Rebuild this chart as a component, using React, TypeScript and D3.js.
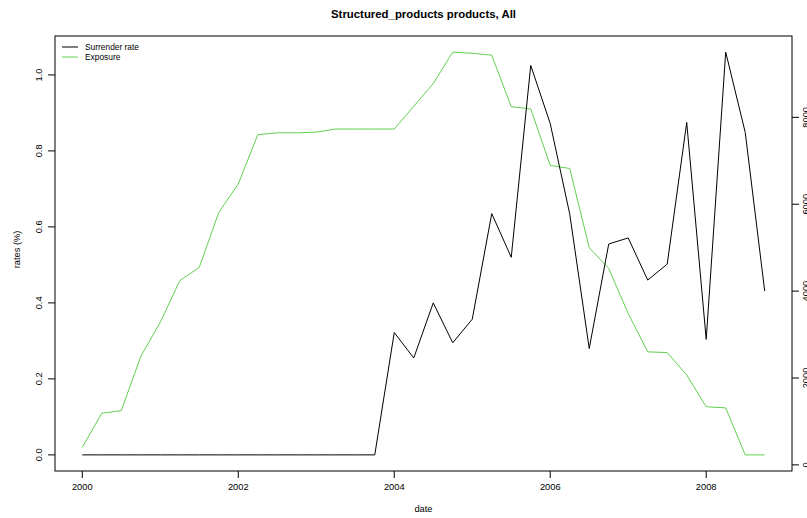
import React from "react";
import * as d3 from "d3";

const dates: number[] = [
  2000.0, 2000.25, 2000.5, 2000.75, 2001.0, 2001.25, 2001.5, 2001.75,
  2002.0, 2002.25, 2002.5, 2002.75, 2003.0, 2003.25, 2003.5, 2003.75,
  2004.0, 2004.25, 2004.5, 2004.75, 2005.0, 2005.25, 2005.5, 2005.75,
  2006.0, 2006.25, 2006.5, 2006.75, 2007.0, 2007.25, 2007.5, 2007.75,
  2008.0, 2008.25, 2008.5, 2008.75,
];

const surrenderRate: number[] = [
  0, 0, 0, 0, 0, 0, 0, 0,
  0, 0, 0, 0, 0, 0, 0, 0,
  0.322, 0.255, 0.4, 0.295, 0.357, 0.635, 0.52, 1.025,
  0.872, 0.634, 0.28, 0.555, 0.571, 0.46, 0.502, 0.875,
  0.304, 1.06, 0.849, 0.431,
];

const exposure: number[] = [
  404, 1189, 1250, 2498, 3283, 4242, 4547, 5812,
  6466, 7600, 7644, 7644, 7661, 7731, 7731, 7731,
  7731, 8254, 8778, 9502, 9475, 9432, 8246, 8193,
  6894, 6824, 5001, 4521, 3483, 2602, 2585, 2070,
  1338, 1312, 230, 230,
];

const xTicks: number[] = [2000, 2002, 2004, 2006, 2008];
const leftTicks: number[] = [0, 0.2, 0.4, 0.6, 0.8, 1.0];
const rightTicks: number[] = [0, 2000, 4000, 6000, 8000];

const legendLabels: string[] = ["Surrender rate", "Exposure"];
const title = "Structured_products products, All";

const W = 807;
const H = 518;
const plot = { left: 55, right: 792, top: 36, bottom: 471 };
const GREEN = "#61D04F";
const FONT = "'Liberation Sans', Arial, Helvetica, sans-serif";

function padded(ext: [number, number]): [number, number] {
  const r = ext[1] - ext[0];
  return [ext[0] - 0.04 * r, ext[1] + 0.04 * r];
}

export default function App() {
  const x = d3
    .scaleLinear()
    .domain(padded(d3.extent(dates) as [number, number]))
    .range([plot.left, plot.right]);
  const yL = d3
    .scaleLinear()
    .domain(padded(d3.extent(surrenderRate) as [number, number]))
    .range([plot.bottom, plot.top]);
  const yR = d3
    .scaleLinear()
    .domain(padded(d3.extent(exposure) as [number, number]))
    .range([plot.bottom, plot.top]);

  const lineL = d3
    .line<number>()
    .x((_, i) => x(dates[i]))
    .y((d) => yL(d));
  const lineR = d3
    .line<number>()
    .x((_, i) => x(dates[i]))
    .y((d) => yR(d));

  const fs = 9.3;
  const tick = 7;

  return (
    <svg
      width={W}
      height={H}
      style={{ position: "absolute", left: 0, top: 0, background: "#fff" }}
      fontFamily={FONT}
    >
      <rect x={0} y={0} width={W} height={H} fill="#fff" />
      {/* title */}
      <text
        x={(plot.left + plot.right) / 2}
        y={14}
        textAnchor="middle"
        dominantBaseline="central"
        fontWeight="bold"
        fontSize={11.4}
      >
        {title}
      </text>

      {/* lines */}
      <path d={lineR(exposure) || ""} fill="none" stroke={GREEN} strokeWidth={1} />
      <path d={lineL(surrenderRate) || ""} fill="none" stroke="#000" strokeWidth={1} />

      {/* box */}
      <rect
        x={plot.left}
        y={plot.top}
        width={plot.right - plot.left}
        height={plot.bottom - plot.top}
        fill="none"
        stroke="#000"
        strokeWidth={1}
      />

      {/* x axis */}
      {xTicks.map((t) => (
        <g key={"x" + t}>
          <line x1={x(t)} x2={x(t)} y1={plot.bottom} y2={plot.bottom + tick} stroke="#000" />
          <text x={x(t)} y={487} textAnchor="middle" dominantBaseline="central" fontSize={fs}>
            {t}
          </text>
        </g>
      ))}
      <text
        x={(plot.left + plot.right) / 2}
        y={509}
        textAnchor="middle"
        dominantBaseline="central"
        fontSize={fs}
      >
        date
      </text>

      {/* left axis */}
      {leftTicks.map((t) => (
        <g key={"l" + t}>
          <line x1={plot.left - tick} x2={plot.left} y1={yL(t)} y2={yL(t)} stroke="#000" />
          <text
            transform={`translate(39,${yL(t)}) rotate(-90)`}
            textAnchor="middle"
            dominantBaseline="central"
            fontSize={fs}
          >
            {t.toFixed(1)}
          </text>
        </g>
      ))}
      <text
        transform={`translate(17,${(plot.top + plot.bottom) / 2 - 4}) rotate(-90)`}
        textAnchor="middle"
        dominantBaseline="central"
        fontSize={fs}
      >
        rates (%)
      </text>

      {/* right axis (labels fall partly outside the canvas, as in the reference) */}
      {rightTicks.map((t) => (
        <g key={"r" + t}>
          <line x1={plot.right} x2={plot.right + tick} y1={yR(t)} y2={yR(t)} stroke="#000" />
          <text
            transform={`translate(803,${yR(t)}) rotate(-90)`}
            textAnchor="middle"
            dominantBaseline="hanging"
            fontSize={fs}
          >
            {t}
          </text>
        </g>
      ))}

      {/* legend */}
      {legendLabels.map((lab, i) => (
        <g key={lab}>
          <line
            x1={62}
            x2={78}
            y1={47 + i * 10}
            y2={47 + i * 10}
            stroke={i === 0 ? "#000" : GREEN}
            strokeWidth={1}
          />
          <text x={85} y={47 + i * 10} dominantBaseline="central" fontSize={8.4}>
            {lab}
          </text>
        </g>
      ))}
    </svg>
  );
}
